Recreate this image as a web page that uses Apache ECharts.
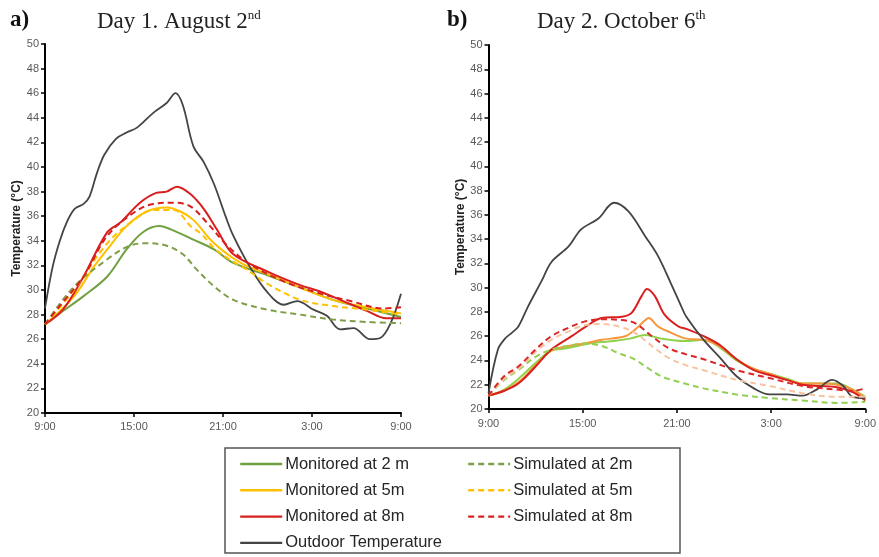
<!DOCTYPE html>
<html>
<head>
<meta charset="utf-8">
<script src="https://cdn.jsdelivr.net/npm/echarts@6/dist/echarts.min.js"></script>
<style>html,body{margin:0;padding:0;background:#fff;}#c{width:879px;height:557px;}</style>
</head>
<body>
<div id="c"></div>
<script>
// hours after 9:00, temperature °C
const xTicks = ['9:00','15:00','21:00','3:00','9:00'];
const yTicks = [20,22,24,26,28,30,32,34,36,38,40,42,44,46,48,50];
const seriesNames = ['Monitored at 2 m','Monitored at 5m','Monitored at 8m','Outdoor Temperature','Simulated at 2m','Simulated at 5m','Simulated at 8m'];

// Day 1 (August 2nd)
const d1Outdoor = [[0,28.5],[0.5,31.8],[1,34.0],[1.5,35.6],[2,36.6],[2.6,37.0],[3,37.6],[3.5,39.5],[4,41.0],[4.8,42.3],[5.5,42.8],[6.2,43.2],[7.3,44.4],[8.2,45.2],[8.8,46.0],[9.3,45.0],[10,41.7],[10.7,40.4],[11.4,38.6],[12.2,35.9],[12.7,34.4],[13.8,31.9],[15,29.8],[16.1,28.8],[17,29.1],[18.1,28.4],[19,27.9],[19.9,26.8],[20.8,26.9],[21.9,26.0],[22.6,26.1],[23.3,27.3],[24,29.7]];
const d1Mon2 = [[0,27.2],[1,28.1],[2.6,29.5],[4.2,31.1],[5.5,33.3],[6.6,34.7],[7.7,35.2],[8.9,34.7],[10,34.1],[11.4,33.3],[12.7,32.2],[15,31.2],[17.2,30.2],[19.4,29.2],[21.7,28.5],[24,27.8]];
const d1Mon5 = [[0,27.2],[1.9,29.4],[3.3,31.9],[4.2,33.3],[5.5,35.2],[6.9,36.4],[8.2,36.7],[9.1,36.4],[10,35.7],[11.4,33.8],[13.2,32.2],[15,31.3],[17.2,30.2],[19.4,29.2],[21.7,28.6],[24,28.1]];
const d1Mon8 = [[0,27.2],[1.2,28.4],[2.6,31.1],[4.2,34.7],[5.1,35.5],[6.4,37.1],[7.5,37.9],[8.2,38.0],[8.9,38.4],[9.8,37.8],[10.7,36.6],[11.6,34.9],[12.7,32.9],[15,31.5],[17.2,30.4],[18.5,29.9],[20.1,29.1],[21.7,28.3],[23,27.7],[24,27.7]];
const d1Sim2 = [[0,27.2],[1.9,30.2],[4.2,32.5],[5.7,33.6],[6.9,33.8],[8.2,33.6],[9.3,32.9],[10.2,31.7],[11.4,30.3],[12.7,29.2],[15,28.4],[17.2,28.0],[19.4,27.6],[21.7,27.4],[24,27.3]];
const d1Sim5 = [[0,27.2],[1.9,29.9],[4.2,33.8],[6,35.7],[7.3,36.5],[8.7,36.5],[9.8,35.2],[10.5,34.6],[11.5,33.3],[12.7,32.3],[13.8,31.5],[15,30.5],[17.2,29.2],[19.4,28.7],[21.7,28.4],[24,28.0]];
const d1Sim8 = [[0,27.2],[1,28.7],[2.6,31.1],[4.2,34.4],[6,36.3],[7.3,37.0],[8.7,37.1],[9.8,36.8],[10.9,35.5],[12.3,33.6],[13.8,32.1],[16.1,30.7],[18.3,29.8],[20.6,29.1],[22.8,28.5],[24,28.6]];

// Day 2 (October 6th)
const d2Outdoor = [[0,21.3],[0.6,24.9],[1.05,25.8],[1.5,26.3],[1.9,26.8],[2.5,28.4],[3.4,30.6],[4,32.1],[5.1,33.4],[5.9,34.8],[7,35.7],[8,37.0],[8.9,36.3],[10,34.2],[10.8,32.6],[11.6,30.4],[12.3,28.4],[12.6,27.6],[13.7,25.7],[14.7,24.3],[15.8,22.7],[16.9,21.7],[17.9,21.2],[19,21.2],[20,21.1],[20.9,21.6],[21.9,22.4],[22.6,21.9],[23.2,21.0],[24,20.9]];
const d2Mon2 = [[0,21.1],[1,21.6],[2,22.6],[3,23.8],[4,24.8],[5,25.0],[6,25.3],[7,25.5],[8,25.6],[9,25.8],[10,26.1],[11,25.8],[12.5,25.6],[13.7,25.7],[14.7,25.1],[15.8,24.0],[16.9,23.3],[17.9,22.9],[19,22.5],[20,22.1],[21.1,22.1],[22.2,22.1],[23.2,21.6],[24,21.0]];
const d2Mon5 = [[0,21.1],[1,21.5],[2,22.3],[3,23.6],[4,24.8],[5.1,25.2],[6.1,25.4],[7.2,25.7],[8.7,26.0],[9.3,26.5],[9.96,27.3],[10.2,27.5],[10.8,26.8],[11.6,26.3],[12.6,25.8],[13.7,25.7],[14.7,25.2],[15.8,24.1],[16.9,23.3],[17.9,22.9],[19,22.4],[20,22.1],[21.1,22.1],[22.2,22.0],[23.2,21.6],[24,20.9]];
const d2Mon8 = [[0,21.1],[1,21.5],[1.9,22.1],[3,23.5],[4,24.9],[5.3,26.0],[6.1,26.7],[7.2,27.5],[8.5,27.6],[9.1,27.9],[9.75,29.3],[10.1,29.9],[10.6,29.3],[11.2,27.8],[12.1,26.8],[12.6,26.6],[13.7,26.0],[14.7,25.3],[15.8,24.1],[16.9,23.2],[17.9,22.8],[19,22.4],[20,22.0],[21.1,21.9],[22.2,21.8],[23.2,21.4],[24,20.7]];
const d2Sim2 = [[0,21.1],[1,22.4],[2,23.3],[3,24.3],[4,24.9],[5,25.2],[6.1,25.4],[7.2,25.2],[8.3,24.6],[9.3,24.1],[10,23.5],[11,22.7],[12.5,22.1],[13.7,21.7],[15.8,21.2],[17.9,20.9],[20,20.7],[22.2,20.5],[24,20.6]];
const d2Sim5 = [[0,21.1],[1,22.5],[2,23.4],[3,24.7],[4,25.7],[5.1,26.4],[6.1,26.9],[7.2,27.0],[8.3,26.8],[9.3,26.3],[10.4,25.2],[11.5,24.2],[12.6,23.6],[13.7,23.2],[15.8,22.4],[17.9,21.9],[20,21.3],[22.2,21.0],[24,21.0]];
const d2Sim8 = [[0,21.1],[1,22.7],[1.9,23.5],[3,24.9],[4,26.0],[5.1,26.7],[6.1,27.2],[7.2,27.4],[8.3,27.35],[9.3,27.1],[10.4,26.0],[11.5,25.0],[12.6,24.5],[13.7,24.1],[15.8,23.2],[17.9,22.55],[20,21.9],[22.2,21.6],[23.2,21.5],[24,21.7]];

const chart = echarts.init(document.getElementById('c'), null, {renderer:'canvas'});

function xAxis(gi, margin){
  return {type:'value', gridIndex:gi, min:0, max:24, interval:6,
    axisLine:{show:true, onZero:false, lineStyle:{color:'#000', width:2}},
    axisTick:{show:true, length:4, inside:false, lineStyle:{color:'#000', width:1.5}},
    splitLine:{show:false},
    axisLabel:{margin:margin, color:'#595959', fontSize:11, fontFamily:'Liberation Sans',
      formatter:(v)=>xTicks[Math.round(v/6)]}};
}
function yAxis(gi){
  return {type:'value', gridIndex:gi, min:20, max:50, interval:2,
    name:'Temperature (°C)', nameLocation:'middle', nameGap:22, nameRotate:90,
    nameTextStyle:{fontSize:12, fontWeight:'bold', color:'#222', fontFamily:'Liberation Sans'},
    axisLine:{show:true, lineStyle:{color:'#000', width:2}},
    axisTick:{show:true, length:4, lineStyle:{color:'#000', width:1.5}},
    splitLine:{show:false},
    axisLabel:{margin:6, color:'#595959', fontSize:11, fontFamily:'Liberation Sans',
      formatter:(v)=> yTicks.indexOf(v)>=0 ? String(v) : ''}};
}
function line(name, data, gi, color, dashed, width){
  return {name:name, type:'line', xAxisIndex:gi, yAxisIndex:gi, data:data,
    smooth:0.35, symbol:'none', showSymbol:false, z: dashed?3:2,
    lineStyle:{color:color, width:width||2, type: dashed?[6,4]:'solid'},
    itemStyle:{color:color}};
}

const legendCommon = {orient:'vertical', itemWidth:42, itemHeight:14, itemGap:6.3, height:120,
  itemStyle:{color:'rgba(0,0,0,0)', borderColor:'rgba(0,0,0,0)', borderWidth:0, opacity:0},
  lineStyle:{width:2.4},
  textStyle:{fontSize:16.5, lineHeight:20, color:'#262626', fontFamily:'Liberation Sans', padding:[0,0,0,-2]}, selectedMode:false};

const supStyle = {fontFamily:'Liberation Serif', fontSize:13, verticalAlign:'top', padding:[0,0,12,0], color:'#222'};

chart.setOption({
  backgroundColor:'#fff',
  animation:false,
  title:[
    {text:'a)', left:5, top:4, textStyle:{fontFamily:'Liberation Serif', fontSize:23, fontWeight:'bold', color:'#111'}},
    {text:'Day 1. August 2{sup|nd}', left:92, top:4, textStyle:{fontFamily:'Liberation Serif', fontSize:23, fontWeight:'normal', color:'#222', rich:{sup:supStyle}}},
    {text:'b)', left:442, top:4, textStyle:{fontFamily:'Liberation Serif', fontSize:23, fontWeight:'bold', color:'#111'}},
    {text:'Day 2. October 6{sup|th}', left:532, top:4, textStyle:{fontFamily:'Liberation Serif', fontSize:23, fontWeight:'normal', color:'#222', rich:{sup:supStyle}}}
  ],
  grid:[
    {left:45, top:44, width:356, height:369},
    {left:488.5, top:45, width:377.5, height:364}
  ],
  xAxis:[xAxis(0,8), xAxis(1,9)],
  yAxis:[yAxis(0), yAxis(1)],
  legend:[
    Object.assign({left:234, top:449, data:[seriesNames[0],seriesNames[1],seriesNames[2],seriesNames[3]]}, legendCommon),
    Object.assign({left:462, top:449, data:[seriesNames[4],seriesNames[5],seriesNames[6]]}, legendCommon)
  ],
  graphic:[
    {type:'rect', shape:{x:225, y:448, width:455, height:105}, style:{fill:'none', stroke:'#555', lineWidth:1.5}, z:0}
  ],
  series:[
    line(seriesNames[0], d1Mon2, 0, '#70A040', false),
    line(seriesNames[1], d1Mon5, 0, '#FFC000', false),
    line(seriesNames[2], d1Mon8, 0, '#D81E1E', false),
    line(seriesNames[3], d1Outdoor, 0, '#444444', false, 1.8),
    line(seriesNames[4], d1Sim2, 0, '#7E9E48', true),
    line(seriesNames[5], d1Sim5, 0, '#FFC000', true),
    line(seriesNames[6], d1Sim8, 0, '#D81E1E', true),
    line(seriesNames[0], d2Mon2, 1, '#8FD24A', false),
    line(seriesNames[1], d2Mon5, 1, '#F7963C', false),
    line(seriesNames[2], d2Mon8, 1, '#DA1F1F', false),
    line(seriesNames[3], d2Outdoor, 1, '#444444', false, 1.8),
    line(seriesNames[4], d2Sim2, 1, '#92D050', true),
    line(seriesNames[5], d2Sim5, 1, '#F8C4A0', true),
    line(seriesNames[6], d2Sim8, 1, '#DC2626', true)
  ]
});
</script>
</body>
</html>
